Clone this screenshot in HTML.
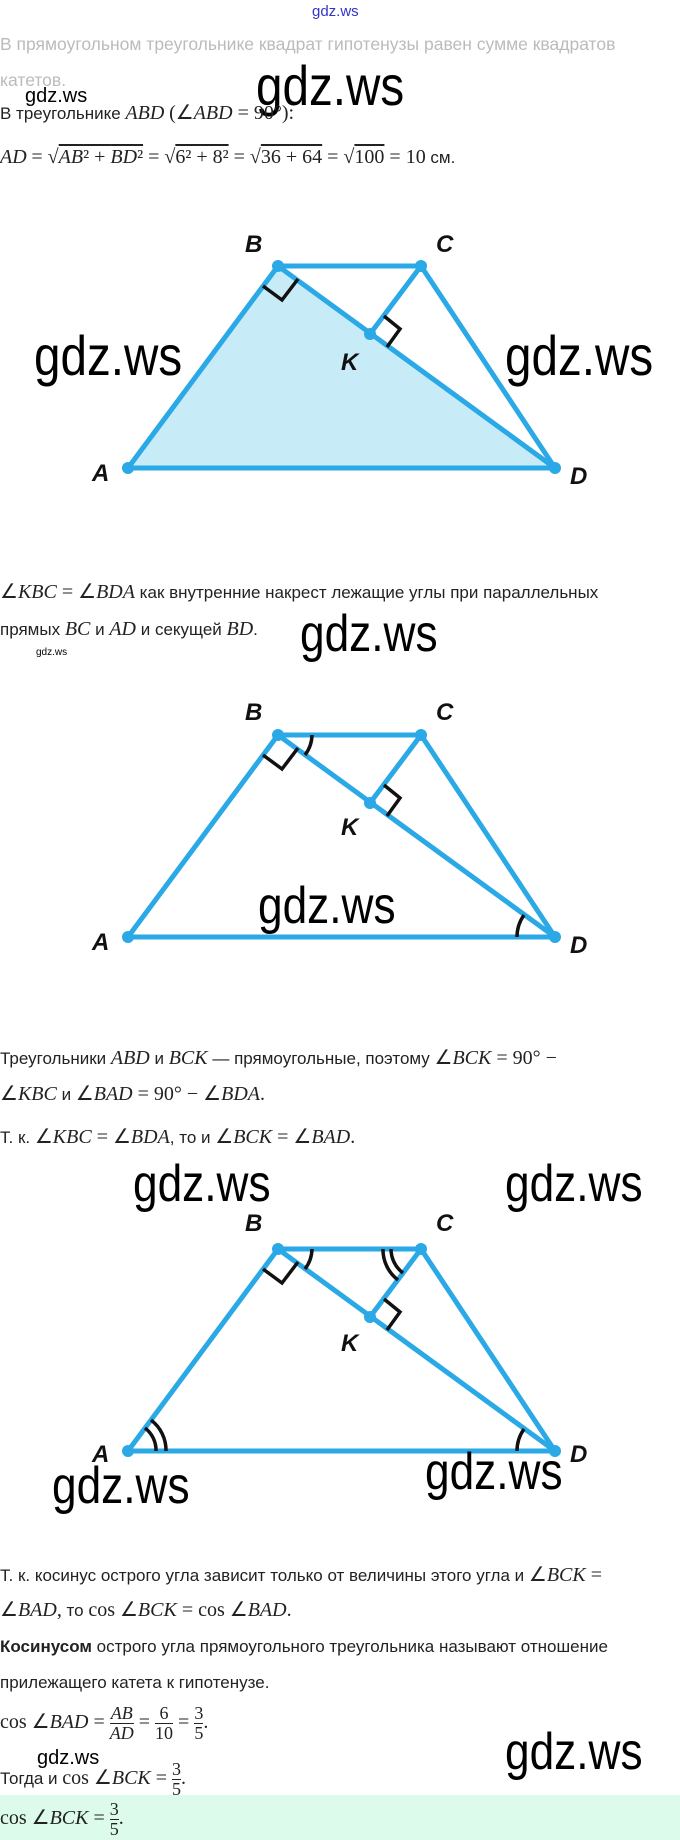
<!DOCTYPE html>
<html><head><meta charset="utf-8"><style>
body{margin:0;width:680px;height:1840px;background:#fff;position:relative;overflow:hidden;font-family:"Liberation Sans","DejaVu Sans",sans-serif;}
.t{position:absolute;left:0;font-size:17px;color:#222;white-space:nowrap;line-height:20px;}
.m{font-family:"Liberation Serif",serif;font-style:italic;font-size:20px;}
.r{font-family:"Liberation Serif",serif;font-size:20px;}
.wm{position:absolute;font-family:"Liberation Sans",sans-serif;color:#000;white-space:nowrap;line-height:1;}
.big{font-size:52px;transform:scaleX(0.85);transform-origin:left top;}
.sm{font-size:20px;}
.fr{display:inline-block;vertical-align:middle;text-align:center;font-family:"Liberation Serif",serif;font-size:18px;line-height:19px;}
.fr span{display:block;}
.fr span.n{border-bottom:1px solid #222;}
svg{position:absolute;left:0;top:0;}
</style></head><body>
<div class="wm" style="left:312px;top:4px;font-size:15px;color:#33c;">gdz.ws</div>
<div class="t" style="top:34px;color:#bbb;font-size:17.5px;">В прямоугольном треугольнике квадрат гипотенузы равен сумме квадратов</div>
<div class="t" style="top:70px;color:#bbb;font-size:17.5px;">катетов.</div>
<div class="wm sm" style="left:25px;top:86px;">gdz.ws</div>
<div class="wm big" style="left:256px;top:58px;font-size:56px;">gdz.ws</div>
<div class="t" style="top:103px;">В треугольнике <span class="m">ABD</span> <span class="r">(∠<i>ABD</i> = 90°):</span></div>
<div class="t" style="top:147px;"><span class="m">AD</span> <span class="r">= √<span style="text-decoration:overline"><i>AB</i>² + <i>BD</i>²</span> = √<span style="text-decoration:overline">6² + 8²</span> = √<span style="text-decoration:overline">36 + 64</span> = √<span style="text-decoration:overline">100</span> = 10</span> см.</div>

<div class="t" style="top:582px;"><span class="r">∠<i>KBC</i> = ∠<i>BDA</i></span> как внутренние накрест лежащие углы при параллельных</div>
<div class="t" style="top:619px;">прямых <span class="m">BC</span> и <span class="m">AD</span> и секущей <span class="m">BD</span>.</div>
<div class="wm big" style="left:300px;top:608px;">gdz.ws</div>
<div class="wm" style="left:36px;top:648px;font-size:10px;">gdz.ws</div>

<div class="t" style="top:1048px;">Треугольники <span class="m">ABD</span> и <span class="m">BCK</span> — прямоугольные, поэтому <span class="r">∠<i>BCK</i> = 90° −</span></div>
<div class="t" style="top:1084px;"><span class="r">∠<i>KBC</i></span> и <span class="r">∠<i>BAD</i> = 90° − ∠<i>BDA</i>.</span></div>
<div class="t" style="top:1127px;">Т. к. <span class="r">∠<i>KBC</i> = ∠<i>BDA</i></span>, то и <span class="r">∠<i>BCK</i> = ∠<i>BAD</i>.</span></div>
<div class="wm big" style="left:133px;top:1158px;">gdz.ws</div>
<div class="wm big" style="left:505px;top:1158px;">gdz.ws</div>

<div class="t" style="top:1565px;">Т. к. косинус острого угла зависит только от величины этого угла и <span class="r">∠<i>BCK</i> =</span></div>
<div class="t" style="top:1600px;"><span class="r">∠<i>BAD</i>,</span> то <span class="r">cos ∠<i>BCK</i> = cos ∠<i>BAD</i>.</span></div>
<div class="t" style="top:1637px;"><b>Косинусом</b> острого угла прямоугольного треугольника называют отношение</div>
<div class="t" style="top:1673px;">прилежащего катета к гипотенузе.</div>
<div class="t" style="top:1702px;line-height:40px;"><span class="r">cos ∠<i>BAD</i> = </span><span class="fr"><span class="n"><i>AB</i></span><span><i>AD</i></span></span><span class="r"> = </span><span class="fr"><span class="n">6</span><span>10</span></span><span class="r"> = </span><span class="fr"><span class="n">3</span><span>5</span></span><span class="r">.</span></div>
<div class="wm sm" style="left:37px;top:1748px;">gdz.ws</div>
<div class="wm big" style="left:505px;top:1726px;">gdz.ws</div>
<div class="t" style="top:1758px;line-height:40px;">Тогда и <span class="r">cos ∠<i>BCK</i> = </span><span class="fr"><span class="n">3</span><span>5</span></span><span class="r">.</span></div>
<div style="position:absolute;left:0;top:1795px;width:680px;height:45px;background:#dcfbea;"></div>
<div class="t" style="top:1798px;line-height:40px;"><span class="r">cos ∠<i>BCK</i> = </span><span class="fr"><span class="n">3</span><span>5</span></span><span class="r">.</span></div>

<svg width="680" height="1840" viewBox="0 0 680 1840">
<defs>
<g id="fig">
<line x1="278" y1="0" x2="421" y2="0"/>
<line x1="278" y1="0" x2="128" y2="202"/>
<line x1="128" y1="202" x2="555" y2="202"/>
<line x1="278" y1="0" x2="555" y2="202"/>
<line x1="421" y1="0" x2="555" y2="202"/>
<line x1="421" y1="0" x2="370" y2="68"/>
</g>
</defs>
<polygon points="278,266 128,468 555,468" fill="#c8ebf8"/>
<g stroke="#2aa9e6" stroke-width="5" stroke-linecap="round" fill="none">
<use href="#fig" transform="translate(0,266)"/>
<use href="#fig" transform="translate(0,735)"/>
<use href="#fig" transform="translate(0,1249)"/>
</g>
<g fill="#2aa9e6">
<circle cx="278" cy="266" r="6"/><circle cx="421" cy="266" r="6"/><circle cx="370" cy="334" r="6"/><circle cx="128" cy="468" r="6"/><circle cx="555" cy="468" r="6"/>
<circle cx="278" cy="735" r="6"/><circle cx="421" cy="735" r="6"/><circle cx="370" cy="803" r="6"/><circle cx="128" cy="937" r="6"/><circle cx="555" cy="937" r="6"/>
<circle cx="278" cy="1249" r="6"/><circle cx="421" cy="1249" r="6"/><circle cx="370" cy="1317" r="6"/><circle cx="128" cy="1451" r="6"/><circle cx="555" cy="1451" r="6"/>
</g>
<g font-family="Liberation Sans, sans-serif" font-style="italic" font-weight="bold" font-size="24" fill="#111">
<text x="245" y="252">B</text><text x="436" y="252">C</text><text x="341" y="370">K</text><text x="92" y="481">A</text><text x="570" y="484">D</text>
<text x="245" y="720">B</text><text x="436" y="720">C</text><text x="341" y="835">K</text><text x="92" y="950">A</text><text x="570" y="953">D</text>
<text x="245" y="1231">B</text><text x="436" y="1231">C</text><text x="341" y="1351">K</text><text x="92" y="1462">A</text><text x="570" y="1462">D</text>
</g>
<g stroke="#111" stroke-width="3.5" fill="none">
<polyline points="263,286 282,300 298,279"/>
<polyline points="384,316 400,329 387,347"/>
<polyline points="263,755 282,769 298,748"/>
<polyline points="384,785 400,798 387,816"/>
<polyline points="263,1269 282,1283 298,1262"/>
<polyline points="384,1299 400,1312 387,1330"/>
<path d="M 312 735 A 34 34 0 0 1 305 755"/>
<path d="M 517 937 A 38 38 0 0 1 524 915"/>
<path d="M 312 1249 A 34 34 0 0 1 305 1269"/>
<path d="M 517 1451 A 38 38 0 0 1 524 1429"/>
<path d="M 156 1451 A 28 28 0 0 0 145 1428"/>
<path d="M 166 1451 A 38 38 0 0 0 151 1420"/>
<path d="M 391 1249 A 30 30 0 0 0 403 1273"/>
<path d="M 383 1249 A 38 38 0 0 0 398 1280"/>
</g>
</svg>
<div class="wm big" style="left:34px;top:328px;font-size:56px;">gdz.ws</div>
<div class="wm big" style="left:505px;top:328px;font-size:56px;">gdz.ws</div>
<div class="wm big" style="left:258px;top:880px;">gdz.ws</div>
<div class="wm big" style="left:52px;top:1460px;">gdz.ws</div>
<div class="wm big" style="left:425px;top:1446px;">gdz.ws</div>
</body></html>
